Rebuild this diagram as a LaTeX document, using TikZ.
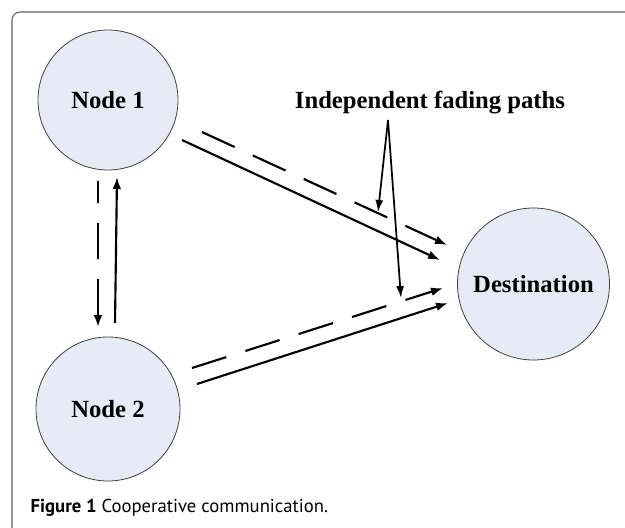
\documentclass[tikz,border=0pt]{standalone}
\usepackage{fontspec}
\setmainfont{Liberation Serif}
\newfontfamily\capfont{PT Sans}
\usetikzlibrary{arrows.meta}
\definecolor{nodefill}{RGB}{231,235,245}
\definecolor{framegray}{RGB}{95,95,95}
\tikzset{
	station/.style={circle, draw=black!75, fill=nodefill, line width=0.6pt, inner sep=0pt, font=\fontsize{18.5}{22}\selectfont\bfseries},
	link/.style={line width=1.6pt, -{Latex[length=9pt,width=6.5pt]}},
	fade/.style={link, dash pattern=on 27pt off 15pt},
	pointer/.style={line width=1.3pt, -{Latex[length=9pt,width=6pt]}}
}
\begin{document}
\begin{tikzpicture}[x=0.75pt, y=-0.75pt]
	\clip (0,0) rectangle (625,528);
	\draw[framegray, line width=0.8pt, rounded corners=6pt] (12,12) rectangle (660,560);
	\node[station, minimum size=105pt] (n1) at (108,100) {Node 1};
	\node[station, minimum size=108pt] (n2) at (108,409) {Node 2};
	\node[station, minimum size=114pt] (dest) at (533.5,284) {Destination};
	\node[font=\fontsize{18.5}{22}\selectfont\bfseries] (lbl) at (430,103) {Independent fading paths};
	\coordinate (n1a) at (182,140); \coordinate (da) at (440,260);
	\coordinate (n1b) at (202,132); \coordinate (db) at (447,245);
	\coordinate (n2a) at (192,368); \coordinate (dc) at (443,288);
	\coordinate (n2b) at (197,384); \coordinate (dd) at (448,303);
	\coordinate (n1c) at (98,181); \coordinate (n2c) at (98,327);
	\coordinate (n2d) at (115,323); \coordinate (n1d) at (117,177);
	\coordinate (fork) at (388,120);
	\coordinate (hit1) at (378,212); \coordinate (hit2) at (401,298);
	\draw[link] (n1a) -- (da);
	\draw[fade] (n1b) -- (db);
	\draw[fade] (n2a) -- (dc);
	\draw[link] (n2b) -- (dd);
	\draw[fade, dash phase=10.5pt] (n1c) -- (n2c);
	\draw[link] (n2d) -- (n1d);
	\draw[pointer] (fork) -- (hit1);
	\draw[pointer] (fork) -- (hit2);
	\node[anchor=west, font=\capfont\fontsize{14}{17}\selectfont] (cap) at (26,508) {\textbf{Figure 1} Cooperative communication.};
\end{tikzpicture}
\end{document}
